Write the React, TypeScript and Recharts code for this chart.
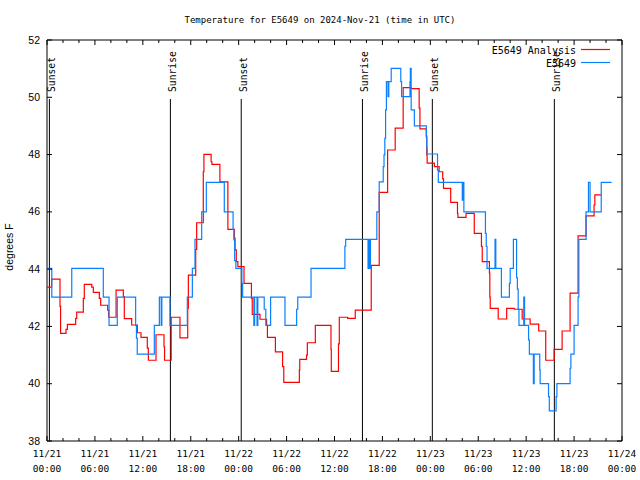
import React from 'react';
import { LineChart, Line, XAxis, YAxis, ReferenceLine, ReferenceArea } from 'recharts';

// hours since 11/21 00:00 UTC, temperature in F
const ANALYSIS: [number, number][] = [
  [0, 43.37], [0.58, 43.65], [1.63, 42.7], [1.7, 41.76], [2.38, 41.9], [2.55, 42.07],
  [3.59, 42.28], [3.72, 42.5], [4.55, 42.98], [4.67, 43.47], [5.6, 43.37], [5.8, 43.19],
  [6.55, 42.98], [6.72, 42.74], [7.6, 42.57], [7.72, 42.32], [8.65, 43.27], [9.56, 43.04],
  [9.68, 42.27], [10.6, 42.05], [11.31, 41.78], [11.77, 41.62], [12.56, 41.24], [12.69, 40.82],
  [13.65, 41.71], [14.65, 41.29], [14.72, 40.82], [15.55, 42.32], [16.65, 41.6], [17.62, 42.64],
  [17.7, 43.79], [18.62, 44.69], [18.74, 45.62], [19.57, 47.4], [19.65, 48.01], [20.55, 47.75],
  [20.65, 47.66], [21.65, 47.05], [22.65, 45.39], [23.46, 45.08], [23.55, 44.67], [23.7, 44.26],
  [23.9, 44.09], [24.67, 43.5], [25.6, 42.98], [25.7, 42.42], [26.67, 42.25], [27.5, 42.04],
  [27.6, 41.62], [28.6, 41.11], [29.5, 40.6], [29.65, 40.05], [31.6, 40.48], [31.65, 40.85],
  [32.5, 41.0], [32.6, 41.43], [33.6, 42.04], [35.56, 41.2], [35.6, 40.43], [36.5, 41.39],
  [36.6, 42.32], [37.65, 42.28], [38.6, 42.57], [40.6, 44.13], [41.6, 46.68], [42.65, 48.16],
  [43.6, 48.92], [44.6, 50.34], [45.6, 50.3], [46.6, 49.62], [46.7, 48.9], [47.5, 48.65],
  [47.55, 47.99], [47.6, 47.7], [48.5, 47.58], [49.1, 47.4], [49.55, 47.15], [49.65, 46.82],
  [50.55, 46.33], [51.4, 45.95], [51.45, 45.81], [52.47, 45.95], [53.5, 45.25], [54.4, 44.79],
  [54.5, 44.26], [55.4, 43.86], [55.45, 43.02], [55.5, 42.63], [56.5, 42.26], [57.56, 42.63],
  [58.5, 42.6], [59.5, 42.26], [60.5, 42.08], [61.57, 41.84], [62.45, 40.82], [63.5, 41.2],
  [64.5, 41.84], [65.5, 43.16], [66.5, 45.16], [67.5, 45.86], [68.5, 46.24], [68.6, 46.59],
  [69.4, 46.59],
];

const OBSERVED: [number, number][] = [
  [0, 44.03], [0.6, 43.02], [3.1, 44.03], [7.05, 43.02], [7.77, 42.04], [8.8, 43.02],
  [11.1, 42.04], [11.2, 41.59], [11.3, 41.03], [13.44, 42.04], [14.07, 43.02], [14.3, 42.04],
  [14.38, 43.02], [15.4, 42.04], [17.57, 43.02], [18.2, 44.03], [18.53, 45.04], [19.37, 46.0],
  [19.95, 47.03], [22.2, 46.0], [23.3, 45.39], [23.4, 45.02], [23.5, 44.3], [23.65, 44.03],
  [24.4, 43.5], [24.5, 43.02], [25.9, 42.04], [26.0, 43.02], [26.3, 42.04], [26.4, 43.02],
  [27.2, 42.6], [27.4, 42.04], [28.0, 43.02], [29.8, 42.04], [31.26, 42.6], [31.4, 43.02],
  [33.06, 44.03], [37.3, 44.8], [37.4, 45.04], [40.2, 44.03], [40.3, 45.04], [40.4, 44.03],
  [40.5, 45.04], [41.3, 46.0], [41.6, 47.05], [42.1, 47.58], [42.2, 47.99], [42.3, 48.57],
  [42.4, 49.56], [42.5, 50.55], [42.7, 50.02], [42.8, 50.55], [43.1, 51.01], [44.3, 50.55],
  [44.4, 50.02], [45.45, 50.55], [45.5, 51.01], [45.6, 49.56], [46.0, 49.0], [47.5, 48.6],
  [47.55, 48.25], [47.6, 48.02], [48.9, 47.46], [49.0, 47.03], [52.0, 46.41], [52.1, 47.03],
  [52.2, 46.0], [54.9, 45.25], [55.0, 44.8], [55.1, 44.03], [56.1, 45.04], [56.2, 44.03],
  [56.9, 43.02], [57.9, 43.5], [58.0, 44.03], [58.4, 45.04], [58.8, 43.7], [58.9, 43.3],
  [59.0, 42.6], [59.1, 42.04], [59.7, 43.02], [59.8, 42.04], [60.3, 41.53], [60.4, 41.03],
  [60.9, 40.0], [61.0, 41.03], [61.7, 40.48], [61.75, 40.0], [62.8, 39.55], [62.9, 39.05],
  [63.75, 39.55], [63.85, 40.0], [65.5, 40.54], [65.6, 41.03], [66.0, 42.04], [66.5, 43.02],
  [66.6, 45.04], [67.5, 46.0], [67.8, 47.03], [68.0, 46.0], [69.4, 47.03], [70.7, 47.03],
];

const SUN_HOURS = [0.3, 15.45, 24.32, 39.5, 48.25, 63.53];
const SUN_LABELS = ['Sunset', 'Sunrise', 'Sunset', 'Sunrise', 'Sunset', 'Sunrise'];
const SUN_LINE_TOP = 49.94;

const X_TICKS = Array.from({ length: 37 }, (_, i) => i * 2);
const X_DATES = ['11/21', '11/21', '11/21', '11/21', '11/22', '11/22', '11/22', '11/22', '11/23', '11/23', '11/23', '11/23', '11/24'];
const X_TIMES = ['00:00', '06:00', '12:00', '18:00', '00:00', '06:00', '12:00', '18:00', '00:00', '06:00', '12:00', '18:00', '00:00'];
const Y_TICKS = [38, 40, 42, 44, 46, 48, 50, 52];

const RED = '#ff0000';
const BLUE = '#0a80ff';
const MONO = "'DejaVu Sans Mono', monospace";
const SANS = "'Liberation Sans', Arial, sans-serif";

const PLOT = { left: 47, right: 622, top: 40, bottom: 441 };

const analysisData = ANALYSIS.map(([h, t]) => ({ h, t }));
const observedData = OBSERVED.map(([h, t]) => ({ h, t }));

const XTick = ({ x, payload }: any) => {
  const h = payload.value;
  const major = h % 6 === 0;
  const len = major ? 5 : 3;
  const i = h / 6;
  return (
    <g>
      <line x1={x} x2={x} y1={PLOT.bottom} y2={PLOT.bottom - len} stroke="#000" />
      <line x1={x} x2={x} y1={PLOT.top} y2={PLOT.top + len} stroke="#000" />
      {major && (
        <text x={x} textAnchor="middle" fontFamily={MONO} fontSize={9.5} fill="#000">
          <tspan x={x} y={PLOT.bottom + 16}>{X_DATES[i]}</tspan>
          <tspan x={x} y={PLOT.bottom + 31}>{X_TIMES[i]}</tspan>
        </text>
      )}
    </g>
  );
};

const YTick = ({ y, payload }: any) => (
  <g>
    <line x1={PLOT.left} x2={PLOT.left + 5} y1={y} y2={y} stroke="#000" />
    <line x1={PLOT.right} x2={PLOT.right - 5} y1={y} y2={y} stroke="#000" />
    <text x={PLOT.left - 7} y={y + 3.5} textAnchor="end" fontFamily={SANS} fontSize={10.5} fill="#000">
      {payload.value}
    </text>
  </g>
);

const sunLabel = (text: string) => (props: any) => {
  const vb = props.viewBox || {};
  const x = vb.x + 5.5;
  const y = vb.y - 7;
  return (
    <text x={x} y={y} transform={`rotate(-90 ${x} ${y})`} fontFamily={MONO} fontSize={9.7} fill="#000">
      {text}
    </text>
  );
};

export default function App() {
  return (
    <div style={{ position: 'absolute', left: 0, top: 0, width: 640, height: 480, background: '#fff' }}>
      <LineChart width={640} height={480} margin={{ top: 40, right: 18, bottom: 0, left: 0 }}>
        <XAxis
          dataKey="h"
          type="number"
          domain={[0, 72]}
          ticks={X_TICKS}
          interval={0}
          height={39}
          axisLine={false}
          tickLine={false}
          tickSize={0}
          tickMargin={0}
          tick={<XTick />}
          allowDuplicatedCategory={false}
        />
        <YAxis
          type="number"
          domain={[38, 52]}
          ticks={Y_TICKS}
          interval={0}
          width={47}
          axisLine={false}
          tickLine={false}
          tickSize={0}
          tickMargin={0}
          tick={<YTick />}
        />
        {SUN_HOURS.map((h, i) => (
          <ReferenceLine
            key={i}
            segment={[{ x: h, y: SUN_LINE_TOP }, { x: h, y: 38 }]}
            stroke="#000"
            strokeWidth={1}
            label={sunLabel(SUN_LABELS[i])}
          />
        ))}
        <Line
          data={analysisData}
          dataKey="t"
          type="stepAfter"
          stroke={RED}
          strokeWidth={1.2}
          dot={false}
          activeDot={false}
          isAnimationActive={false}
        />
        <Line
          data={observedData}
          dataKey="t"
          type="stepAfter"
          stroke={BLUE}
          strokeWidth={1.2}
          dot={false}
          activeDot={false}
          isAnimationActive={false}
        />
        <ReferenceArea x1={0} x2={72} y1={38} y2={52} fill="none" stroke="#000" strokeWidth={1} />
      </LineChart>
      <svg width={640} height={480} style={{ position: 'absolute', left: 0, top: 0, pointerEvents: 'none' }}>
        <text x={320} y={23} textAnchor="middle" fontFamily={MONO} fontSize={9} fill="#000">
          Temperature for E5649 on 2024-Nov-21 (time in UTC)
        </text>
        <text x={13} y={247} transform="rotate(-90 13 247)" textAnchor="middle" fontFamily={SANS} fontSize={10.5} fill="#000">
          degrees F
        </text>
        <text x={576} y={53.5} textAnchor="end" fontFamily={MONO} fontSize={10} fill="#000">E5649 Analysis</text>
        <line x1={581} x2={610} y1={49.5} y2={49.5} stroke={RED} strokeWidth={1.2} />
        <text x={576} y={66.5} textAnchor="end" fontFamily={MONO} fontSize={10} fill="#000">E5649</text>
        <line x1={581} x2={610} y1={62.5} y2={62.5} stroke={BLUE} strokeWidth={1.2} />
      </svg>
    </div>
  );
}
